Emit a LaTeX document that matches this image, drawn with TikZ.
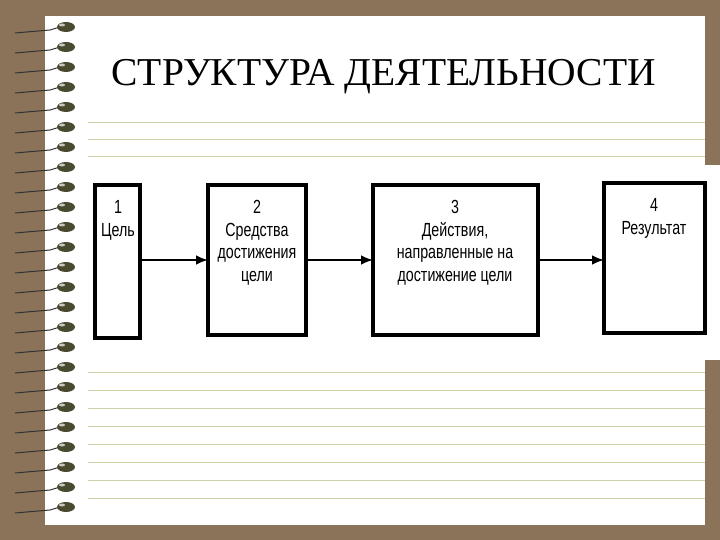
\documentclass[tikz,border=0pt]{standalone}
\usepackage{fontspec}
\setmainfont{Liberation Serif}
\newfontfamily\boxfont{Liberation Sans}
\begin{document}
\begin{tikzpicture}[x=1pt,y=-1pt,
  rule/.style={draw=rulecol,line width=0.8pt},
  blk/.style={draw=black,line width=3.2pt,fill=white},
  lbl/.style={font=\boxfont\fontsize{19}{22.5}\selectfont,align=center,xscale=0.75,anchor=north},
  arr/.style={-{Latex[length=12pt,width=10pt]},line width=2.6pt}]
\usetikzlibrary{arrows.meta}
\definecolor{bgbrown}{HTML}{8B735A}
\definecolor{rulecol}{HTML}{CFCFA8}
\definecolor{ringcol}{HTML}{4A4A30}
\useasboundingbox (0,0) rectangle (720,540);
\fill[bgbrown] (0,0) rectangle (720,540);
\fill[white] (45,16) rectangle (705,525);
\fill[white] (88,165) rectangle (720,360);
\foreach \y in {122,139,156,372,390,408,426,444,462,480,498} \draw[rule] (88,\y) -- (705,\y);
\foreach \i in {0,...,24} {
  \pgfmathsetmacro{\yy}{27+20*\i}
  \draw[black!80,line width=1pt] (15,\yy+6) -- (50,\yy+3) -- (60,\yy);
  \fill[ringcol] (66,\yy) ellipse (9 and 5);
  \fill[white!70!ringcol] (62,\yy-2) ellipse (3 and 1.5);
}
\node[font=\fontsize{39.5}{42}\selectfont,anchor=west] (title) at (108,77) {СТРУКТУРА ДЕЯТЕЛЬНОСТИ};
\draw[blk] (95,185) rectangle (140,338);
\draw[blk] (208,185) rectangle (306,335);
\draw[blk] (373,185) rectangle (538,335);
\draw[blk] (604,183) rectangle (705,333);
\coordinate (b1) at (141,260); \coordinate (b2l) at (208,260);
\coordinate (b2r) at (307,260); \coordinate (b3l) at (373,260);
\coordinate (b3r) at (539,260); \coordinate (b4l) at (604,260);
\node[lbl] (t1) at (118,197) {1\\Цель};
\node[lbl] (t2) at (257,197) {2\\Средства\\достижения\\цели};
\node[lbl] (t3) at (455,197) {3\\Действия,\\направленные на\\достижение цели};
\node[lbl] (t4) at (654,195) {4\\Результат};
\draw[arr] (b1) -- (b2l);
\draw[arr] (b2r) -- (b3l);
\draw[arr] (b3r) -- (b4l);
\end{tikzpicture}
\end{document}
